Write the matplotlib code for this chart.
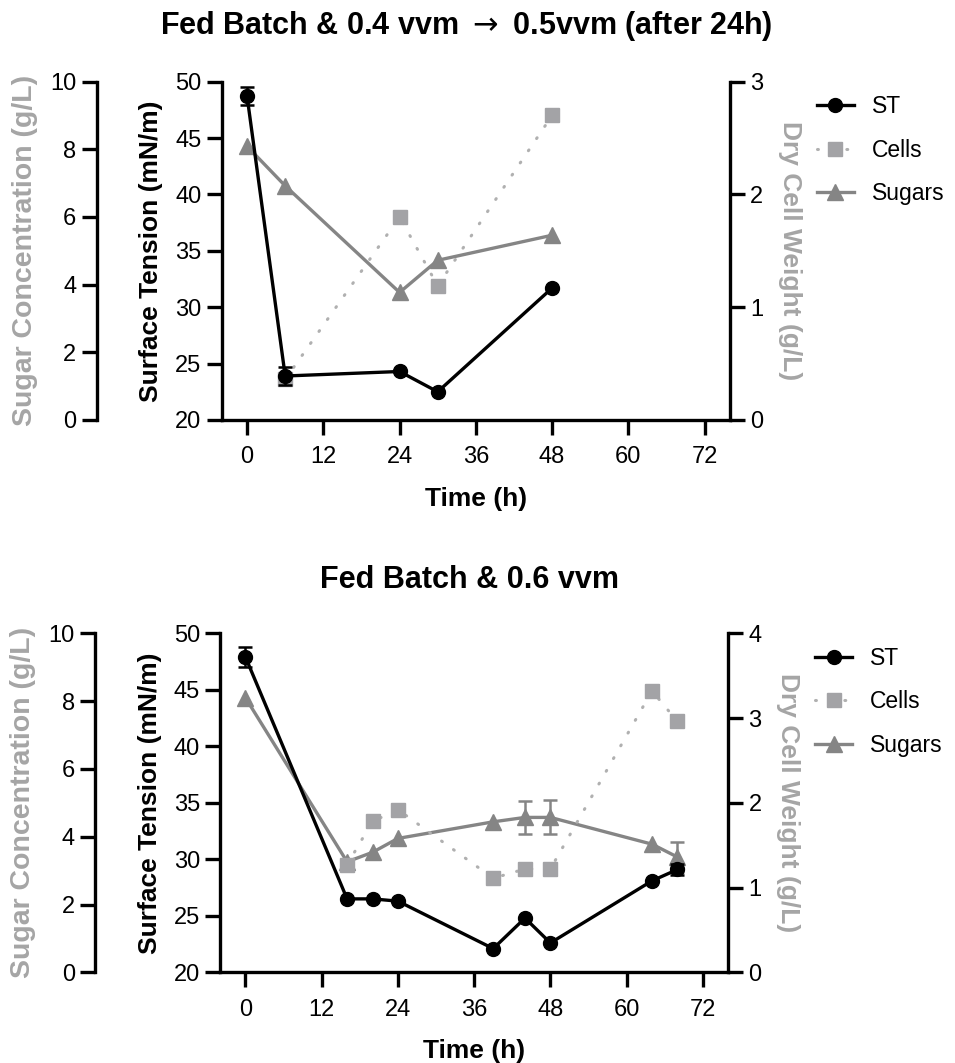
import numpy as np
import matplotlib
matplotlib.use("Agg")
import matplotlib.pyplot as plt
from matplotlib.lines import Line2D

plt.rcParams['font.family'] = ['Liberation Sans', 'DejaVu Sans']

# ---- data: top panel (0.4 -> 0.5 vvm) ----
t1 = [0, 6, 24, 30, 48]
st1 = [48.7, 23.9, 24.3, 22.5, 31.7]
st1_err = [0.8, 0.8, 0, 0, 0]
cells1 = [None, 0.36, 1.80, 1.19, 2.70]
sug1 = [8.09, 6.92, 3.77, 4.72, 5.46]
sug1_err = [0, 0, 0, 0, 0]

# ---- data: bottom panel (0.6 vvm) ----
t2 = [0, 16, 20, 24, 39, 44, 48, 64, 68]
st2 = [47.9, 26.5, 26.5, 26.3, 22.1, 24.8, 22.6, 28.1, 29.1]
st2_err = [0.9, 0, 0, 0, 0, 0, 0, 0, 0.5]
cells2 = [None, 1.27, 1.78, 1.92, 1.11, 1.22, 1.22, 3.32, 2.96]
sug2 = [8.1, 3.26, 3.54, 3.95, 4.44, 4.57, 4.57, 3.78, 3.4]
sug2_err = [0, 0, 0, 0, 0, 0.48, 0.5, 0, 0.45]

x_ticks = [0, 12, 24, 36, 48, 60, 72]

C_ST = 'black'
C_CELL = '#a3a3a6'
C_DOT = '#b0b0b0'
C_SUG = '#858585'
C_LAB = '#a5a5a5'

TICK_FS = 17
LAB_FS = 19
DOTS = (0, (0.3, 4.5))


def style_ticks(a):
    a.tick_params(width=2.4, length=10.5, labelsize=TICK_FS, pad=4)


def errs(a, t, y, e, color):
    # error bars only where an error was reported
    pts = [(ti, yi, ei) for ti, yi, ei in zip(t, y, e) if ei > 0]
    if pts:
        tt, yy, ee = zip(*pts)
        a.errorbar(tt, yy, yerr=ee, fmt='none', ecolor=color, elinewidth=1.8,
                   capsize=4.7, capthick=1.8, clip_on=False)


def panel(fig, rect, title, title_xy, t, st, st_err, cells, sug, sug_err, dcw_max):
    ax = fig.add_axes(rect)
    ax_s = ax.twinx()
    ax_c = ax.twinx()

    # sugars (left outer axis)
    ax_s.plot(t, sug, color=C_SUG, lw=2.4, marker='^', ms=11, clip_on=False)
    errs(ax_s, t, sug, sug_err, C_SUG)
    ax_s.set_ylim(0, 10)
    ax_s.set_yticks(np.arange(0, 11, 2))
    for s in ['top', 'right', 'bottom']:
        ax_s.spines[s].set_visible(False)
    ax_s.spines['left'].set_visible(True)
    ax_s.spines['left'].set_position(('axes', -0.246))
    ax_s.spines['left'].set_linewidth(2.4)
    ax_s.yaxis.set_ticks_position('left')
    ax_s.yaxis.set_label_position('left')
    ax_s.set_ylabel('Sugar Concentration (g/L)', fontweight='bold',
                    fontsize=20.5, color=C_LAB)
    ax_s.yaxis.set_label_coords(-0.362, 0.5)
    style_ticks(ax_s)

    # cells (right axis)
    tc = [ti for ti, c in zip(t, cells) if c is not None]
    cc = [c for c in cells if c is not None]
    ax_c.plot(tc, cc, color=C_DOT, lw=2.2, linestyle=DOTS, dash_capstyle='round',
              clip_on=False)
    ax_c.plot(tc, cc, linestyle='none', marker='s', ms=9.5, color=C_CELL,
              clip_on=False)
    ax_c.set_ylim(0, dcw_max)
    ax_c.set_yticks(range(0, dcw_max + 1))
    for s in ['top', 'left', 'bottom']:
        ax_c.spines[s].set_visible(False)
    ax_c.spines['right'].set_linewidth(2.4)
    ax_c.set_ylabel('Dry Cell Weight (g/L)', fontweight='bold', fontsize=LAB_FS,
                    color=C_LAB, rotation=270, va='center')
    ax_c.yaxis.set_label_coords(1.118, 0.5)
    style_ticks(ax_c)

    # surface tension (main)
    ax.plot(t, st, color=C_ST, lw=2.4, marker='o', ms=10, clip_on=False)
    errs(ax, t, st, st_err, C_ST)
    ax.set_zorder(ax_c.get_zorder() + 1)
    ax.patch.set_visible(False)
    ax.set_ylim(20, 50)
    ax.set_yticks(range(20, 51, 5))
    ax.set_xlim(-4, 76)
    ax.set_xticks(x_ticks)
    for s in ['top', 'right']:
        ax.spines[s].set_visible(False)
    for s in ['left', 'bottom']:
        ax.spines[s].set_linewidth(2.4)
    ax.set_ylabel('Surface Tension (mN/m)', fontweight='bold', fontsize=LAB_FS)
    ax.yaxis.set_label_coords(-0.115, 0.5)
    ax.set_xlabel('Time (h)', fontweight='bold', fontsize=LAB_FS)
    ax.xaxis.set_label_coords(0.5, -0.198)
    style_ticks(ax)
    ax.tick_params(axis='x', length=11, pad=8)

    fig.text(title_xy[0], title_xy[1], title, ha='center', va='center',
             fontweight='bold', fontsize=22)

    handles = [
        Line2D([], [], color=C_ST, lw=2.4, marker='o', ms=10),
        Line2D([], [], color=C_DOT, lw=2.2, linestyle=DOTS, dash_capstyle='round',
               marker='s', ms=9.5, markerfacecolor=C_CELL, markeredgecolor=C_CELL),
        Line2D([], [], color=C_SUG, lw=2.4, marker='^', ms=11),
    ]
    ax.legend(handles, ['ST', 'Cells', 'Sugars'], loc='upper left',
              bbox_to_anchor=(1.171, 0.96), frameon=False, fontsize=16.5,
              borderaxespad=0, borderpad=0, handlelength=1.6,
              handletextpad=0.8, labelspacing=0.89)
    return ax


fig = plt.figure(figsize=(9.55, 10.63), dpi=100)

panel(fig, [0.2321, 0.6049, 0.5323, 0.3183],
      r'Fed Batch & 0.4 vvm $\rightarrow$ 0.5vvm (after 24h)', (0.488, 0.9755),
      t1, st1, st1_err, cells1, sug1, sug1_err, 3)

panel(fig, [0.2304, 0.0853, 0.5322, 0.3189],
      'Fed Batch & 0.6 vvm', (0.492, 0.4544),
      t2, st2, st2_err, cells2, sug2, sug2_err, 4)

fig.savefig('out.png', dpi=100)
